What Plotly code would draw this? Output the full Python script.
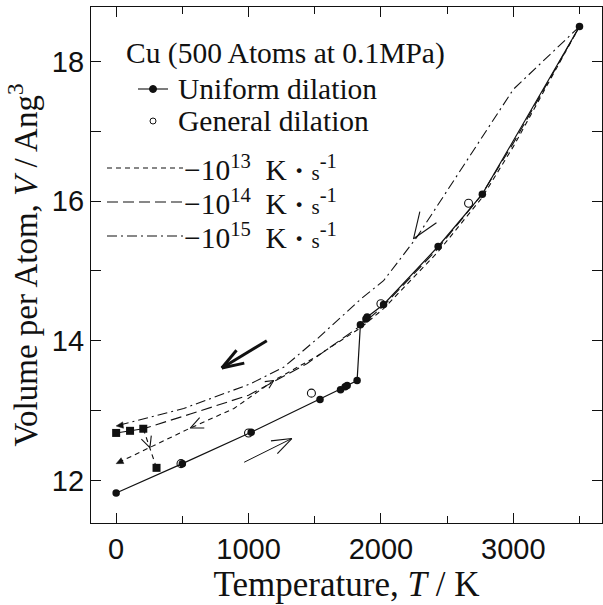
import math
import plotly.graph_objects as go

# ---------------- data ----------------
# uniform dilation (filled circles, solid line)
uni_T = [0, 500, 1020, 1540, 1695, 1730, 1745, 1820, 1845, 1887, 1896, 2020, 2432, 2766, 3500]
uni_V = [11.82, 12.24, 12.69, 13.16, 13.30, 13.34, 13.36, 13.43, 14.23, 14.31, 14.34, 14.52, 15.35, 16.10, 18.50]

# general dilation (open circles)
gen_T = [490, 1000, 1475, 2000, 2662]
gen_V = [12.24, 12.68, 13.25, 14.53, 15.97]

# filled squares
sq_T = [0, 105, 205]
sq_V = [12.68, 12.71, 12.74]
sq2_T = [205, 305]
sq2_V = [12.74, 12.18]

# cooling curves
c15_T = [3500, 3000, 2270, 2020, 1850, 1520, 1265, 1010, 510, 0]
c15_V = [18.50, 17.60, 15.48, 14.86, 14.60, 14.03, 13.62, 13.38, 13.03, 12.78]

c14_T = [3500, 3000, 2760, 2430, 2020, 1850, 1440, 1000, 560, 205]
c14_V = [18.50, 16.83, 16.09, 15.32, 14.50, 14.22, 13.67, 13.22, 12.95, 12.74]

c13_T = [3500, 3000, 2760, 2430, 2020, 1850, 1500, 1190, 890, 560, 0]
c13_V = [18.50, 16.78, 16.04, 15.27, 14.46, 14.19, 13.76, 13.43, 13.03, 12.75, 12.24]

x_ticks = [0, 1000, 2000, 3000]
y_ticks = [12, 14, 16, 18]

# ---------------- layout geometry ----------------
W, H = 603, 605
ML, MR, MT, MB = 91, 1, 7, 82
PW, PH = W - ML - MR, H - MT - MB
XR = [-190, 3670]
YR = [11.39, 18.78]

def to_px(T, V):
    return (ML + (T - XR[0]) / (XR[1] - XR[0]) * PW,
            MT + (YR[1] - V) / (YR[1] - YR[0]) * PH)

def to_data(x, y):
    return (XR[0] + (x - ML) / PW * (XR[1] - XR[0]),
            YR[1] - (y - MT) / PH * (YR[1] - YR[0]))

def paper(x, y):
    return ((x - ML) / PW, 1 - (y - MT) / PH)

INK = "#111111"
SERIF = "Liberation Serif, Times New Roman, serif"
SANS = "Liberation Sans, Arial, sans-serif"

fig = go.Figure()

fig.add_trace(go.Scatter(x=c15_T, y=c15_V, mode="lines",
                         line=dict(color=INK, width=1.1, dash="10px,4px,2px,4px")))
fig.add_trace(go.Scatter(x=c14_T, y=c14_V, mode="lines",
                         line=dict(color=INK, width=1.1, dash="11px,5px")))
fig.add_trace(go.Scatter(x=c13_T, y=c13_V, mode="lines",
                         line=dict(color=INK, width=1.1, dash="5px,4px")))
fig.add_trace(go.Scatter(x=sq2_T, y=sq2_V, mode="lines",
                         line=dict(color=INK, width=1.1, dash="5px,4px")))
fig.add_trace(go.Scatter(x=uni_T, y=uni_V, mode="lines+markers",
                         line=dict(color=INK, width=1.2),
                         marker=dict(symbol="circle", size=7.5, color=INK)))
fig.add_trace(go.Scatter(x=gen_T, y=gen_V, mode="markers",
                         marker=dict(symbol="circle-open", size=8, color=INK,
                                     line=dict(width=1.1, color=INK))))
fig.add_trace(go.Scatter(x=sq_T, y=sq_V, mode="lines+markers",
                         line=dict(color=INK, width=1.1),
                         marker=dict(symbol="square", size=8, color=INK)))
fig.add_trace(go.Scatter(x=[sq2_T[-1]], y=[sq2_V[-1]], mode="markers",
                         marker=dict(symbol="square", size=8, color=INK)))

shapes = []

# open chevron arrows: (tail T, tail V, tip T, tip V, barb px, half angle, shaft width)
arrows = [
    (2600, 16.45, 2246, 15.46, 28, 21, 0),
    (1138, 14.00, 798, 13.61, 23, 19, 3),
    (967, 12.26, 1327, 12.60, 21, 20, 1),
    (890, 13.03, 560, 12.75, 14, 24, 0),
    (205, 12.74, 255, 12.47, 12, 26, 0),
    (1000, 13.20, 1190, 13.43, 9, 26, 0),
]
for tT, tV, hT, hV, L, ang, sw in arrows:
    tx, ty = to_px(tT, tV)
    hx, hy = to_px(hT, hV)
    dx, dy = tx - hx, ty - hy
    n = math.hypot(dx, dy)
    ux, uy = dx / n, dy / n
    lw = max(sw, 1.1)
    for s in (1, -1):
        a = math.radians(ang) * s
        bx = hx + L * (ux * math.cos(a) - uy * math.sin(a))
        by = hy + L * (ux * math.sin(a) + uy * math.cos(a))
        bT, bV = to_data(bx, by)
        shapes.append(dict(type="line", xref="x", yref="y", x0=hT, y0=hV, x1=bT, y1=bV,
                           line=dict(color=INK, width=lw)))
    if sw:
        shapes.append(dict(type="line", xref="x", yref="y", x0=tT, y0=tV, x1=hT, y1=hV,
                           line=dict(color=INK, width=sw)))

# small filled arrowheads at curve ends: (from T, from V, tip T, tip V)
heads = [(300, 12.51, 0, 12.24), (250, 12.84, 0, 12.78)]
for fT, fV, hT, hV in heads:
    fx, fy = to_px(fT, fV)
    hx, hy = to_px(hT, hV)
    dx, dy = fx - hx, fy - hy
    n = math.hypot(dx, dy)
    ux, uy = dx / n, dy / n
    L, w = 7, 3.2
    p1 = (hx + L * ux - w * uy, hy + L * uy + w * ux)
    p2 = (hx + L * ux + w * uy, hy + L * uy - w * ux)
    pts = [to_data(hx, hy), to_data(*p1), to_data(*p2)]
    path = "M {} {} L {} {} L {} {} Z".format(pts[0][0], pts[0][1], pts[1][0], pts[1][1],
                                            pts[2][0], pts[2][1])
    shapes.append(dict(type="path", xref="x", yref="y", path=path,
                       fillcolor=INK, line=dict(color=INK, width=0.5)))

# ---------------- legend (drawn by hand) ----------------
annotations = []

def text(x, y, s, size=29.5, family=SERIF):
    px_, py_ = paper(x, y)
    annotations.append(dict(x=px_, y=py_, xref="paper", yref="paper", text=s,
                            showarrow=False, xanchor="left", yanchor="middle",
                            font=dict(family=family, size=size, color=INK)))

def pline(x0, x1, y, dash="solid", width=1.1):
    a = paper(x0, y)
    b = paper(x1, y)
    shapes.append(dict(type="line", xref="paper", yref="paper", x0=a[0], y0=a[1],
                       x1=b[0], y1=b[1], line=dict(color=INK, width=width, dash=dash)))

def pcircle(x, y, r, filled=True):
    a = paper(x - r, y + r)
    b = paper(x + r, y - r)
    shapes.append(dict(type="circle", xref="paper", yref="paper", x0=a[0], y0=a[1],
                       x1=b[0], y1=b[1], fillcolor=INK if filled else "white",
                       line=dict(color=INK, width=1)))

text(124, 53, "Cu (500 Atoms at 0.1MPa)")
pline(138, 168, 89)
pcircle(153, 89, 3.5)
text(176, 89, "Uniform dilation")
pcircle(153, 121, 3, filled=False)
text(176, 121, "General dilation")

unit = "&nbsp;&nbsp;K <b>·</b> <span style='font-size:21px'>s</span><sup>-1</sup>"
rows = [(168, "5px,4px", "13"), (202, "11px,5px", "14"), (236, "10px,4px,2px,4px", "15")]
for y, d, e in rows:
    pline(107, 183, y, dash=d)
    text(182, y, "\u221210<sup>" + e + "</sup>" + unit)

fig.update_layout(
    width=W, height=H,
    margin=dict(l=ML, r=MR, t=MT, b=MB, pad=0),
    paper_bgcolor="white", plot_bgcolor="white",
    showlegend=False,
    shapes=shapes, annotations=annotations,
    xaxis=dict(range=XR, tickmode="array", tickvals=x_ticks, ticktext=[str(v) for v in x_ticks],
               ticks="inside", ticklen=10, tickwidth=1, tickcolor=INK,
               minor=dict(tickmode="linear", tick0=500, dtick=1000, ticks="inside",
                          ticklen=7, tickwidth=1, tickcolor=INK),
               showline=True, linecolor=INK, linewidth=1.3, mirror="ticks",
               showgrid=False, zeroline=False,
               tickfont=dict(family=SANS, size=29, color=INK),
               title=dict(text="Temperature, <i>T</i> / K", standoff=5,
                          font=dict(family=SERIF, size=35, color=INK))),
    yaxis=dict(range=YR, tickmode="array", tickvals=y_ticks, ticktext=[str(v) for v in y_ticks],
               ticks="inside", ticklen=10, tickwidth=1, tickcolor=INK,
               minor=dict(tickmode="linear", tick0=13, dtick=2, ticks="inside",
                          ticklen=10, tickwidth=1, tickcolor=INK),
               showline=True, linecolor=INK, linewidth=1.3, mirror="ticks",
               showgrid=False, zeroline=False,
               tickfont=dict(family=SANS, size=29, color=INK),
               title=dict(text="Volume per Atom, <i>V</i> / Ang<sup>3</sup>", standoff=4,
                          font=dict(family=SERIF, size=33, color=INK))),
)

fig.write_html("out.html")
